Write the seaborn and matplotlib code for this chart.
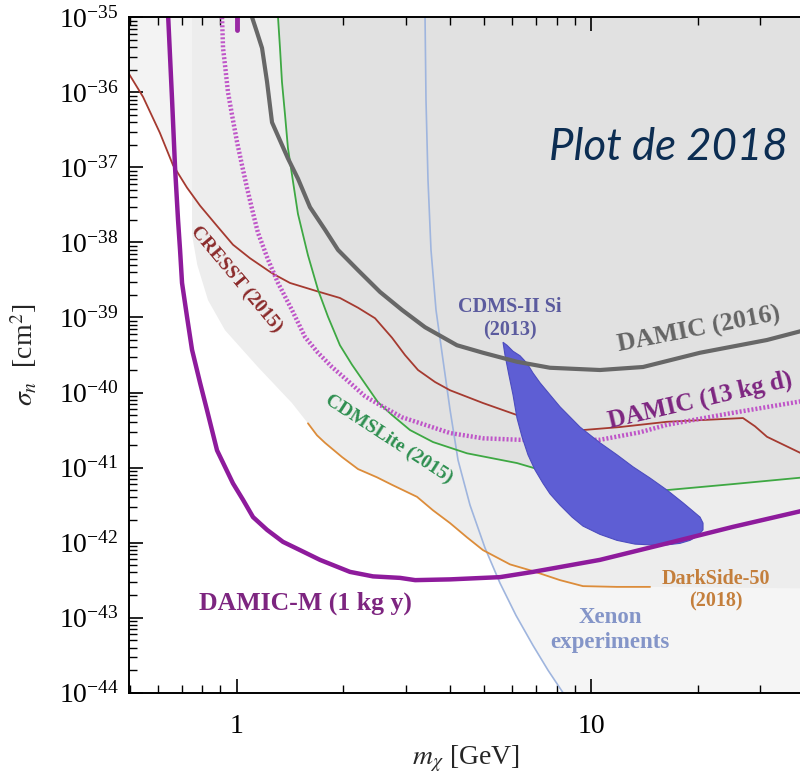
import numpy as np
import matplotlib
matplotlib.use("Agg")
import matplotlib.pyplot as plt
import seaborn as sns
from matplotlib.ticker import LogLocator, LogFormatterSciNotation, NullFormatter, FixedLocator

# ---------------- data (mass in GeV, log10 of cross-section in cm^2) ----------------
damic_m_mass = [0.640, 0.657, 0.670, 0.683, 0.692, 0.701, 0.724, 0.748, 0.788, 0.824, 0.880,
                0.976, 1.042, 1.112, 1.218, 1.351, 1.509, 1.718, 2.088, 2.425, 2.891, 3.19,
                4.001, 5.536, 6.860, 10.60, 16.39, 25.17, 40.0]
damic_m_logsig = [-34.95, -36.10, -37.01, -37.70, -38.10, -38.54, -38.99, -39.43, -39.87, -40.23,
                  -40.77, -41.21, -41.43, -41.66, -41.83, -41.99, -42.10, -42.23, -42.39, -42.45,
                  -42.47, -42.50, -42.49, -42.46, -42.39, -42.23, -42.01, -41.79, -41.57]

damic13_mass = [0.909, 0.915, 0.927, 0.945, 0.970, 1.002, 1.035, 1.069, 1.112, 1.148, 1.226, 1.308,
                1.432, 1.559, 1.696, 1.858, 2.088, 2.302, 2.588, 2.929, 3.401, 4.001, 4.956, 6.304,
                7.660, 10.60, 13.75, 16.39, 25.17, 40.0]
damic13_logsig = [-35.0, -35.41, -35.64, -36.00, -36.30, -36.66, -36.97, -37.27, -37.61, -37.87,
                  -38.23, -38.54, -38.90, -39.26, -39.47, -39.66, -39.87, -40.05, -40.19, -40.33,
                  -40.43, -40.54, -40.61, -40.63, -40.63, -40.63, -40.53, -40.43, -40.27, -40.11]
damic13_tick_mass = [1.0, 1.0]
damic13_tick_logsig = [-35.0, -35.17]

damic16_mass = [1.105, 1.141, 1.179, 1.218, 1.258, 1.395, 1.489, 1.610, 1.775, 1.932, 2.200, 2.538,
                2.929, 3.401, 4.185, 4.956, 6.182, 7.660, 10.60, 14.02, 20.31, 31.39, 40.0]
damic16_logsig = [-35.0, -35.20, -35.41, -35.86, -36.40, -36.88, -37.15, -37.53, -37.83, -38.10,
                  -38.37, -38.66, -38.90, -39.13, -39.37, -39.47, -39.59, -39.67, -39.70, -39.66,
                  -39.47, -39.30, -39.17]

cdmslite_mass = [1.308, 1.325, 1.342, 1.369, 1.395, 1.442, 1.489, 1.589, 1.696, 1.810, 1.956, 2.116,
                 2.302, 2.505, 2.744, 3.084, 3.582, 4.467, 6.182, 7.179, 10.60, 16.39, 25.17, 40.0]
cdmslite_logsig = [-35.0, -35.41, -35.86, -36.30, -36.74, -37.19, -37.62, -38.17, -38.63, -38.99,
                   -39.37, -39.63, -39.88, -40.13, -40.30, -40.50, -40.66, -40.81, -40.94, -41.03,
                   -41.19, -41.30, -41.22, -41.13]

cresst_mass = [0.493, 0.544, 0.607, 0.661, 0.724, 0.788, 0.880, 0.976, 1.090, 1.258, 1.414, 1.685,
               1.956, 2.200, 2.457, 2.744, 2.985, 3.249, 3.629, 4.001, 4.956, 6.182, 7.660, 9.494,
               12.07, 16.39, 26.85, 29.03, 31.39, 40.0]
cresst_logsig = [-35.73, -36.06, -36.54, -36.97, -37.27, -37.51, -37.78, -38.03, -38.21, -38.41,
                 -38.54, -38.65, -38.74, -38.87, -39.01, -39.27, -39.50, -39.70, -39.86, -39.97,
                 -40.14, -40.30, -40.46, -40.50, -40.46, -40.39, -40.34, -40.45, -40.59, -40.83]

darkside_mass = [1.589, 1.685, 1.775, 1.983, 2.200, 2.489, 2.744, 3.228, 3.582, 4.001, 4.467, 4.956,
                 5.907, 6.860, 8.176, 9.494, 11.84, 14.68]
darkside_logsig = [-40.41, -40.57, -40.67, -40.86, -41.02, -41.13, -41.23, -41.39, -41.57, -41.74,
                   -41.93, -42.10, -42.29, -42.38, -42.50, -42.58, -42.59, -42.59]

xenon_mass = [3.401, 3.422, 3.467, 3.535, 3.652, 3.823, 4.001, 4.214, 4.555, 5.021, 5.536, 6.142,
              6.860, 7.562, 8.336]
xenon_logsig = [-35.0, -36.10, -37.17, -38.10, -38.90, -39.57, -40.23, -40.90, -41.50, -42.07,
                -42.54, -42.97, -43.37, -43.70, -44.0]

cdms_si_mass = [5.645, 5.718, 5.868, 6.024, 6.182, 6.387, 6.640, 6.947, 7.320, 7.660, 8.176, 8.841,
                9.494, 10.60, 11.84, 13.31, 14.68, 16.39, 17.83, 19.03, 20.04, 20.71, 20.71, 20.31,
                19.28, 18.19, 16.39, 14.68, 13.14, 11.84, 10.60, 9.311, 8.176, 7.660, 7.179, 6.860,
                6.597, 6.304, 6.024, 5.793]
cdms_si_logsig = [-39.33, -39.50, -39.77, -40.03, -40.34, -40.59, -40.83, -41.03, -41.21, -41.35,
                  -41.50, -41.66, -41.78, -41.89, -41.97, -42.02, -42.03, -42.03, -42.01, -41.97,
                  -41.91, -41.83, -41.74, -41.66, -41.57, -41.47, -41.30, -41.14, -40.99, -40.83,
                  -40.67, -40.46, -40.19, -40.03, -39.87, -39.74, -39.61, -39.51, -39.45, -39.37]

# light excluded band: left edge, then lower envelope along DarkSide-50, then flat
band_mass = [0.748, 0.748, 0.774, 0.830, 0.927, 1.148, 1.432] + darkside_mass + [40.0]
band_logsig = [-35.0, -37.90, -38.30, -38.77, -39.17, -39.66, -40.14] + darkside_logsig + [-42.61]

# ---------------- style ----------------
sns.set_theme(style="ticks")
plt.rcParams.update({
    "font.family": ["Liberation Serif", "DejaVu Serif"],
    "mathtext.fontset": "stix",
    "axes.linewidth": 1.4,
    "axes.edgecolor": "black",
    "xtick.color": "black",
    "ytick.color": "black",
})

W, H = 800, 775
fig = plt.figure(figsize=(W / 100, H / 100), dpi=100)
ax = fig.add_axes([128.5 / W, 82.3 / H, 675.8 / W, 675.4 / H])
ax.set_xscale("log")
ax.set_yscale("log")
ax.set_facecolor("white")

TOP = 1e-30
sig = lambda a: np.power(10.0, np.asarray(a, dtype=float))

# shaded regions
ax.fill_between(cresst_mass, sig(cresst_logsig), TOP, color="#f3f3f3", lw=0, zorder=0.2)
ax.fill_betweenx(sig(xenon_logsig), xenon_mass, 100, color="#f5f5f5", lw=0, zorder=0.3)
ax.fill_between(band_mass, sig(band_logsig), TOP, color="#ededed", lw=0, zorder=0.4)
ax.fill_between(cdmslite_mass, sig(cdmslite_logsig), TOP, color="#e1e1e1", lw=0, zorder=0.5)


def line(m, ls, color, lw, z):
    sns.lineplot(x=np.asarray(m), y=sig(ls), sort=False, estimator=None, color=color,
                 lw=lw, ax=ax, zorder=z)


line(xenon_mass, xenon_logsig, "#9fb5de", 1.2, 2)
line(cresst_mass, cresst_logsig, "#a53a30", 1.3, 2)
line(cdmslite_mass, cdmslite_logsig, "#3ea843", 1.3, 2)
line(darkside_mass, darkside_logsig, "#dc8c3a", 1.3, 2)
ax.plot(damic13_mass, sig(damic13_logsig), color="#bf55c8", lw=3.2,
        linestyle=(0, (0.45, 0.45)), zorder=3)
line(damic13_tick_mass, damic13_tick_logsig, "#9a2aa4", 3.5, 3)

ax.fill(cdms_si_mass, sig(cdms_si_logsig), facecolor="#5e5ed4", edgecolor="#4c4cbf",
        lw=0.8, zorder=4)

line(damic16_mass, damic16_logsig, "#676767", 3.0, 5)
line(damic_m_mass, damic_m_logsig, "#8e1b9c", 3.2, 5)

ax.set_xlim(0.495, 40)
ax.set_ylim(1e-44, 1e-35)

# ticks
ax.yaxis.set_major_locator(FixedLocator([10.0 ** k for k in range(-44, -34)]))
ax.yaxis.set_major_formatter(LogFormatterSciNotation())
ax.yaxis.set_minor_locator(LogLocator(base=10, subs=np.arange(2, 10), numticks=60))
ax.yaxis.set_minor_formatter(NullFormatter())
ax.xaxis.set_major_locator(FixedLocator([1, 10]))
ax.xaxis.set_major_formatter(plt.FuncFormatter(lambda v, p: f"{v:g}"))
ax.xaxis.set_minor_locator(LogLocator(base=10, subs=np.arange(2, 10), numticks=60))
ax.xaxis.set_minor_formatter(NullFormatter())
ax.tick_params(which="both", direction="in", top=True, right=False, left=True, bottom=True,
               labelsize=20)
ax.tick_params(axis="y", which="major", pad=7)
ax.tick_params(axis="x", which="major", pad=15)
ax.tick_params(which="major", length=10, width=1.2)
ax.tick_params(which="minor", length=6, width=1.0)
ax.spines["right"].set_visible(False)
for s in ("left", "bottom", "top"):
    ax.spines[s].set_zorder(10)

ax.set_xlabel(r"$m_\chi$ [GeV]", fontsize=20, labelpad=4)
ax.set_ylabel(r"$\sigma_n$  [cm$^2$]", fontsize=20, labelpad=14)

# ---------------- labels ----------------
def px(x, y):
    return x / W, 1 - y / H


def label(x, y, s, color, size, rot=0, ls=1.2):
    fx, fy = px(x, y)
    fig.text(fx, fy, s, color=color, fontsize=size, rotation=rot, rotation_mode="anchor",
             ha="center", va="center", fontweight="bold", linespacing=ls, zorder=20)


label(236, 279, "CRESST (2015)", "#8b2b2b", 14, rot=-50)
label(389, 439, "CDMSLite (2015)", "#2e8f50", 14, rot=-33)
label(510, 319, "CDMS-II Si\n(2013)", "#5b5b9e", 14.5, ls=1.25)
label(699, 330, "DAMIC (2016)", "#656565", 18.5, rot=11)
label(700, 400, "DAMIC (13 kg d)", "#7d2580", 18, rot=13)
label(305, 603, "DAMIC-M (1 kg y)", "#7d2580", 18.5)
label(716, 590, "DarkSide-50\n(2018)", "#c47f3c", 14.5, ls=1.2)
label(610, 630, "Xenon\nexperiments", "#8495c8", 16.5, ls=1.3)

fx, fy = px(668, 147)
fig.text(fx, fy, "Plot de 2018", color="#0c2d52", fontsize=31.5, style="italic",
         family=["Lato", "Open Sans", "DejaVu Sans"], ha="center", va="center", zorder=20)

fig.savefig("out.png", dpi=100)
